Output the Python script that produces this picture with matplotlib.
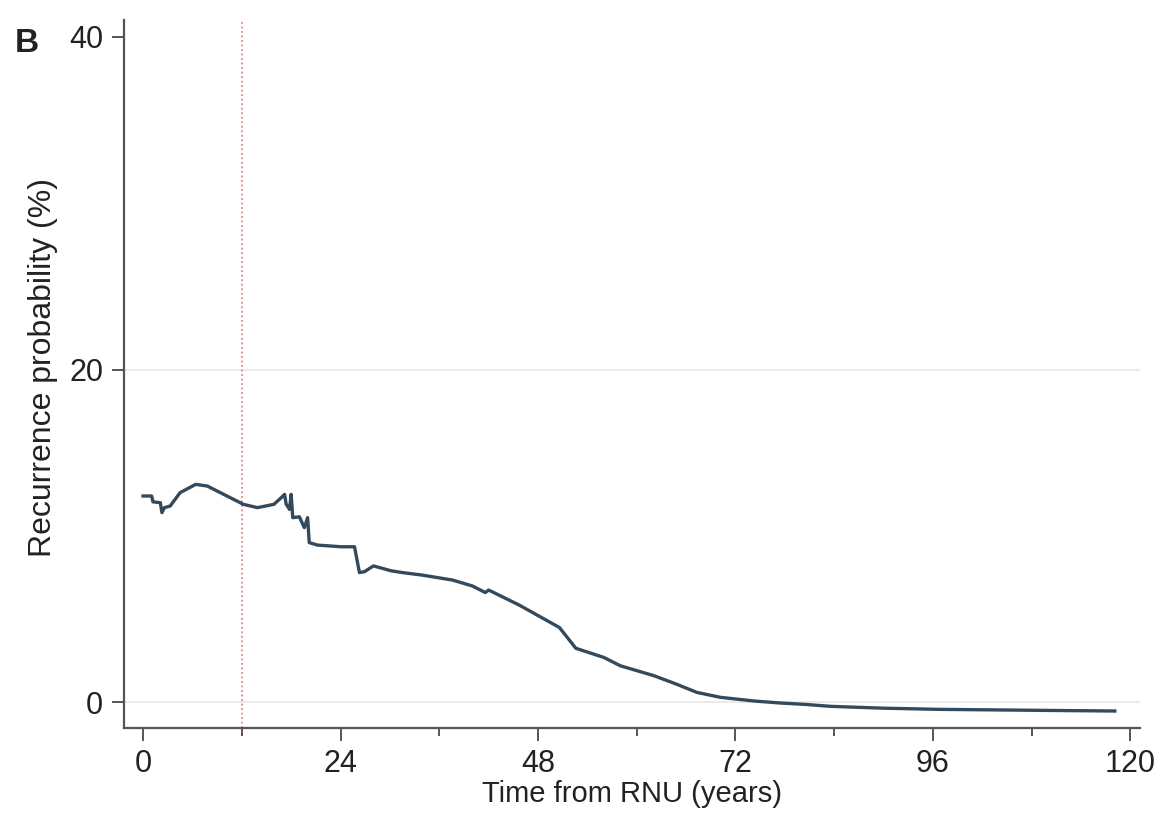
import matplotlib
matplotlib.use("Agg")
import matplotlib.pyplot as plt
from matplotlib.ticker import MultipleLocator

# curve (time in years, recurrence probability in %)
time = [0, 1.05, 1.2, 2.1, 2.3, 2.6, 3.3, 4.5, 6.4, 7.8, 9.4, 11.0, 12.2, 13.9,
        15.9, 16.8, 17.2, 17.4, 17.8, 18.0, 18.2, 19.0, 19.6, 20.0, 20.2, 21.2,
        24.1, 25.7, 26.3, 26.9, 28.0, 30.2, 31.5, 33.9, 37.6, 40.0, 41.6, 42.0,
        45.7, 50.6, 52.6, 56.0, 58.0, 62.1, 64.8, 67.3, 70.2, 74.3, 77.5, 80.4,
        83.6, 90.0, 96.7, 109.0, 118.1]
prob = [12.4, 12.4, 12.05, 12.0, 11.4, 11.7, 11.8, 12.6, 13.1, 13.0, 12.6, 12.2,
        11.9, 11.7, 11.9, 12.3, 12.5, 11.9, 11.6, 12.5, 11.1, 11.15, 10.5, 11.1,
        9.6, 9.45, 9.35, 9.35, 7.8, 7.85, 8.2, 7.9, 7.8, 7.65, 7.35, 7.0, 6.6,
        6.75, 5.85, 4.5, 3.25, 2.7, 2.2, 1.6, 1.1, 0.6, 0.3, 0.08, -0.04, -0.12,
        -0.24, -0.35, -0.42, -0.48, -0.52]
ref_time = 12
grid_levels = [0, 20]

plt.rcParams['font.family'] = ['Liberation Sans', 'DejaVu Sans']

fig = plt.figure(figsize=(11.6, 8.36), dpi=100)
ax = fig.add_axes([0.107, 0.129, 0.876, 0.847])

for g in grid_levels:
    ax.axhline(g, color='#e6e6e6', lw=1.2, zorder=0)
ax.axvline(ref_time, color='#f08080', lw=1.3, ls=(0, (1, 1.5)), zorder=1)
ax.plot(time, prob, color='#33495c', lw=2.4, zorder=2)

ax.set_xlim(-2.3, 121.2)
ax.set_ylim(-1.55, 41)
ax.xaxis.set_major_locator(MultipleLocator(24))
ax.xaxis.set_minor_locator(MultipleLocator(12))
ax.set_yticks([0, 20, 40])

for s in ['top', 'right']:
    ax.spines[s].set_visible(False)
for s in ['left', 'bottom']:
    ax.spines[s].set_color('#555555')
    ax.spines[s].set_linewidth(1.6)

ax.tick_params(axis='both', which='major', length=9, width=1.4,
               color='#555555', labelsize=22, labelcolor='#222222', pad=6)
ax.tick_params(axis='x', which='minor', length=6, width=1.4, color='#555555')

ax.set_xlabel('Time from RNU (years)', fontsize=21, color='#222222', labelpad=1)
ax.set_ylabel('Recurrence probability (%)', fontsize=23, color='#222222')
ax.yaxis.set_label_coords(-0.065, 0.51)

fig.text(0.013, 0.938, 'B', fontsize=24, fontweight='bold', color='#222222')

fig.savefig('out.png', dpi=100, facecolor='white')
